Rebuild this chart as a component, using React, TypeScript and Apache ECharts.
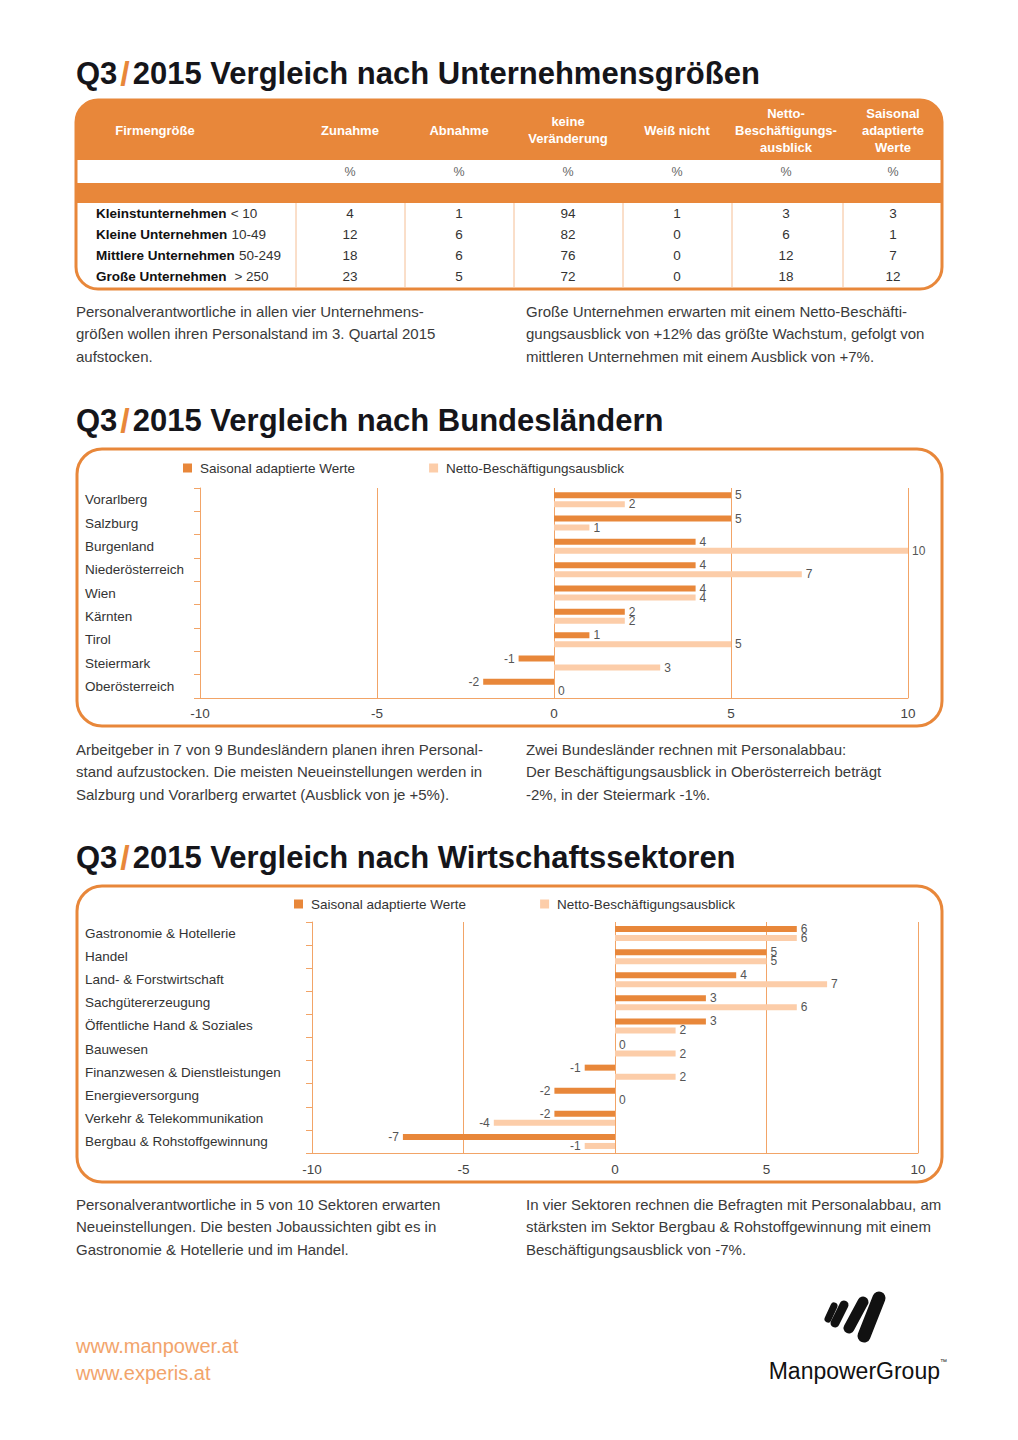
import React, { useEffect, useRef } from "react";
import * as echarts from "echarts";

const FONT = "'Liberation Sans', Arial, Helvetica, sans-serif";
const ORANGE = "#E8873A";
const PEACH = "#FCCDA9";
const LINE = "#F2A467";
const SEP = "#F5BE94";
const TXT = "#3a3a3a";
const URL_C = "#F2A46B";

const SERIES_A = "Saisonal adaptierte Werte";
const SERIES_B = "Netto-Beschäftigungsausblick";

// ---- Table data ----
const tableHeaders = [
  "Firmengröße",
  "Zunahme",
  "Abnahme",
  "keine\nVeränderung",
  "Weiß nicht",
  "Netto-\nBeschäftigungs-\nausblick",
  "Saisonal\nadaptierte\nWerte",
];
const tableUnits = ["%", "%", "%", "%", "%", "%"];
const sizeNames = ["Kleinstunternehmen", "Kleine Unternehmen", "Mittlere Unternehmen", "Große Unternehmen"];
const sizeRanges = ["< 10", "10-49", "50-249", " > 250"];
const zunahme = [4, 12, 18, 23];
const abnahme = [1, 6, 6, 5];
const keineVeraenderung = [94, 82, 76, 72];
const weissNicht = [1, 0, 0, 0];
const nettoAusblick = [3, 6, 12, 18];
const saisonalWerte = [3, 1, 7, 12];

// ---- Chart 1: Bundesländer ----
const states = ["Vorarlberg", "Salzburg", "Burgenland", "Niederösterreich", "Wien", "Kärnten", "Tirol", "Steiermark", "Oberösterreich"];
const statesSaisonal = [5, 5, 4, 4, 4, 2, 1, -1, -2];
const statesNetto = [2, 1, 10, 7, 4, 2, 5, 3, 0];

// ---- Chart 2: Wirtschaftssektoren ----
const sectors = [
  "Gastronomie & Hotellerie",
  "Handel",
  "Land- & Forstwirtschaft",
  "Sachgütererzeugung",
  "Öffentliche Hand & Soziales",
  "Bauwesen",
  "Finanzwesen & Dienstleistungen",
  "Energieversorgung",
  "Verkehr & Telekommunikation",
  "Bergbau & Rohstoffgewinnung",
];
const sectorsSaisonal = [6, 5, 4, 3, 3, 0, -1, -2, -2, -7];
const sectorsNetto = [6, 5, 7, 6, 2, 2, 2, 0, -4, -1];

const xTickValues = [-10, -5, 0, 5, 10];

function T(x: number, y: number, text: string, o: any = {}) {
  const align = o.align || "left";
  const va = o.va || "middle";
  return {
    type: "text",
    x,
    y,
    silent: true,
    z: 10,
    style: {
      text,
      fill: o.fill || TXT,
      fontSize: o.size || 15,
      fontWeight: o.weight || "normal",
      fontFamily: FONT,
      align,
      textAlign: align,
      verticalAlign: va,
      textVerticalAlign: va,
      lineHeight: o.lh,
      rich: o.rich,
    },
  };
}

function title(y: number, rest: string) {
  const a = { fontSize: 31, fontWeight: "bold", fill: "#15151a", color: "#15151a", fontFamily: FONT };
  const s = { fontSize: 34, fontWeight: "bold", fill: ORANGE, color: ORANGE, fontFamily: FONT, padding: [0, 3, 0, 3] };
  return T(76, y, "{a|Q3}{s|/}{a|" + rest + "}", { rich: { a, s } });
}

function buildGraphics() {
  const els: any[] = [];
  // Titles
  els.push(title(73, "2015 Vergleich nach Unternehmensgrößen"));
  els.push(title(420, "2015 Vergleich nach Bundesländern"));
  els.push(title(857, "2015 Vergleich nach Wirtschaftssektoren"));

  // Table
  const tx = 76, ty = 100, tw = 866, th = 189;
  els.push({ type: "rect", silent: true, shape: { x: tx, y: ty, width: tw, height: 60, r: [22, 22, 0, 0] }, style: { fill: ORANGE } });
  els.push({ type: "rect", silent: true, shape: { x: tx, y: 183, width: tw, height: 20 }, style: { fill: ORANGE } });
  const colCenters = [155, 350, 459, 568, 677, 786, 893];
  const seps = [296, 405, 514, 623, 732, 843];
  seps.forEach((sx) =>
    els.push({ type: "line", silent: true, shape: { x1: sx, y1: 203, x2: sx, y2: 287 }, style: { stroke: SEP, lineWidth: 1 } })
  );
  els.push({ type: "rect", silent: true, z: 5, shape: { x: tx, y: ty, width: tw, height: th, r: 22 }, style: { fill: "none", stroke: ORANGE, lineWidth: 3 } });
  tableHeaders.forEach((h, i) => {
    els.push(T(colCenters[i], 130, h, { align: "center", weight: "bold", size: 13, fill: "#ffffff", lh: 17 }));
  });
  tableUnits.forEach((u, i) => {
    els.push(T(colCenters[i + 1], 172, u, { align: "center", size: 12.5, fill: "#666" }));
  });
  const cols = [zunahme, abnahme, keineVeraenderung, weissNicht, nettoAusblick, saisonalWerte];
  sizeNames.forEach((n, r) => {
    const y = 213 + r * 21;
    els.push(
      T(96, y, "{b|" + n + "} {r|" + sizeRanges[r] + "}", {
        rich: {
          b: { fontSize: 13.5, fontWeight: "bold", fill: "#111", color: "#111", fontFamily: FONT },
          r: { fontSize: 13.5, fill: "#333", color: "#333", fontFamily: FONT },
        },
      })
    );
    cols.forEach((c, ci) => {
      els.push(T(colCenters[ci + 1], y, String(c[r]), { align: "center", size: 13.5, fill: "#333" }));
    });
  });

  // Paragraphs
  const P = (x: number, y: number, t: string) => els.push(T(x, y, t, { va: "top", size: 15, lh: 22.5, fill: TXT }));
  P(76, 300, "Personalverantwortliche in allen vier Unternehmens-\ngrößen wollen ihren Personalstand im 3. Quartal 2015\naufstocken.");
  P(526, 300, "Große Unternehmen erwarten mit einem Netto-Beschäfti-\ngungsausblick von +12% das größte Wachstum, gefolgt von\nmittleren Unternehmen mit einem Ausblick von +7%.");
  P(76, 738, "Arbeitgeber in 7 von 9 Bundesländern planen ihren Personal-\nstand aufzustocken. Die meisten Neueinstellungen werden in\nSalzburg und Vorarlberg erwartet (Ausblick von je +5%).");
  P(526, 738, "Zwei Bundesländer rechnen mit Personalabbau:\nDer Beschäftigungsausblick in Oberösterreich beträgt\n-2%, in der Steiermark -1%.");
  P(76, 1193, "Personalverantwortliche in 5 von 10 Sektoren erwarten\nNeueinstellungen. Die besten Jobaussichten gibt es in\nGastronomie & Hotellerie und im Handel.");
  P(526, 1193, "In vier Sektoren rechnen die Befragten mit Personalabbau, am\nstärksten im Sektor Bergbau & Rohstoffgewinnung mit einem\nBeschäftigungsausblick von -7%.");

  // Chart boxes
  els.push({ type: "rect", silent: true, shape: { x: 77, y: 449, width: 865, height: 277, r: 25 }, style: { fill: "none", stroke: ORANGE, lineWidth: 3 } });
  els.push({ type: "rect", silent: true, shape: { x: 77, y: 886, width: 865, height: 296, r: 25 }, style: { fill: "none", stroke: ORANGE, lineWidth: 3 } });

  // Footer
  els.push(T(76, 1346, "www.manpower.at", { size: 20, fill: URL_C }));
  els.push(T(76, 1373, "www.experis.at", { size: 20, fill: URL_C }));
  els.push(T(940, 1371, "ManpowerGroup", { size: 23, fill: "#111", align: "right" }));
  els.push(T(940, 1361, "™", { size: 7, fill: "#111", align: "left" }));
  const bars = [
    [834, 1306, 828, 1319, 7],
    [844, 1305, 835, 1323, 9],
    [863, 1302, 849, 1328, 11],
    [879, 1298, 864, 1336, 13],
  ];
  bars.forEach((b) =>
    els.push({ type: "line", silent: true, shape: { x1: b[0], y1: b[1], x2: b[2], y2: b[3] }, style: { stroke: "#111", lineWidth: b[4], lineCap: "round" } })
  );
  return els;
}

function barData(vals: number[]) {
  return vals.map((v) => ({ value: v, label: { position: v < 0 ? "left" : "right" } }));
}

function makeAxes(gridIndex: number, cats: string[], labelMargin: number, xMargin: number) {
  const x = {
    type: "value",
    gridIndex,
    min: xTickValues[0],
    max: xTickValues[xTickValues.length - 1],
    interval: xTickValues[1] - xTickValues[0],
    axisLine: { show: true, lineStyle: { color: LINE, width: 1 } },
    axisTick: { show: false },
    splitLine: { show: true, lineStyle: { color: LINE, width: 1 } },
    axisLabel: { color: "#444", fontSize: 13.5, fontFamily: FONT, margin: xMargin },
  };
  const y = {
    type: "category",
    gridIndex,
    inverse: true,
    data: cats,
    axisLine: { show: true, onZero: false, lineStyle: { color: LINE, width: 1 } },
    axisTick: { show: true, length: 6, interval: 0, lineStyle: { color: LINE } },
    axisLabel: { align: "left", margin: labelMargin, color: "#333", fontSize: 13.5, fontFamily: FONT, interval: 0 },
    splitLine: { show: false },
  };
  return { x, y };
}

function makeSeries(name: string, idx: number, vals: number[], color: string) {
  return {
    type: "bar",
    name,
    xAxisIndex: idx,
    yAxisIndex: idx,
    data: barData(vals),
    barWidth: 6,
    barGap: "50%",
    itemStyle: { color },
    label: { show: true, distance: 4, color: "#555", fontSize: 12, fontFamily: FONT },
  };
}

export default function App() {
  const ref = useRef<HTMLDivElement>(null);
  useEffect(() => {
    if (!ref.current) return;
    const chart = echarts.init(ref.current, undefined, { renderer: "svg" });
    const a1 = makeAxes(0, states, 115, 8);
    const a2 = makeAxes(1, sectors, 227, 9);
    const legendBase = {
      icon: "rect",
      itemWidth: 9,
      itemHeight: 9,
      itemGap: 74,
      padding: 0,
      selectedMode: false,
      data: [SERIES_A, SERIES_B],
      textStyle: { color: "#333", fontSize: 13.5, fontFamily: FONT, padding: [0, 0, 0, 3] },
    };
    chart.setOption({
      animation: false,
      textStyle: { fontFamily: FONT },
      legend: [
        { ...legendBase, left: 183, top: 461 },
        { ...legendBase, left: 294, top: 897 },
      ],
      grid: [
        { left: 200, width: 708, top: 488, height: 210 },
        { left: 312, width: 606, top: 922, height: 231 },
      ],
      xAxis: [a1.x, a2.x],
      yAxis: [a1.y, a2.y],
      series: [
        makeSeries(SERIES_A, 0, statesSaisonal, ORANGE),
        makeSeries(SERIES_B, 0, statesNetto, PEACH),
        makeSeries(SERIES_A, 1, sectorsSaisonal, ORANGE),
        makeSeries(SERIES_B, 1, sectorsNetto, PEACH),
      ],
      graphic: { elements: buildGraphics() },
    });
    return () => chart.dispose();
  }, []);
  return <div ref={ref} style={{ position: "absolute", left: 0, top: 0, width: 1018, height: 1440, background: "#fff" }} />;
}
